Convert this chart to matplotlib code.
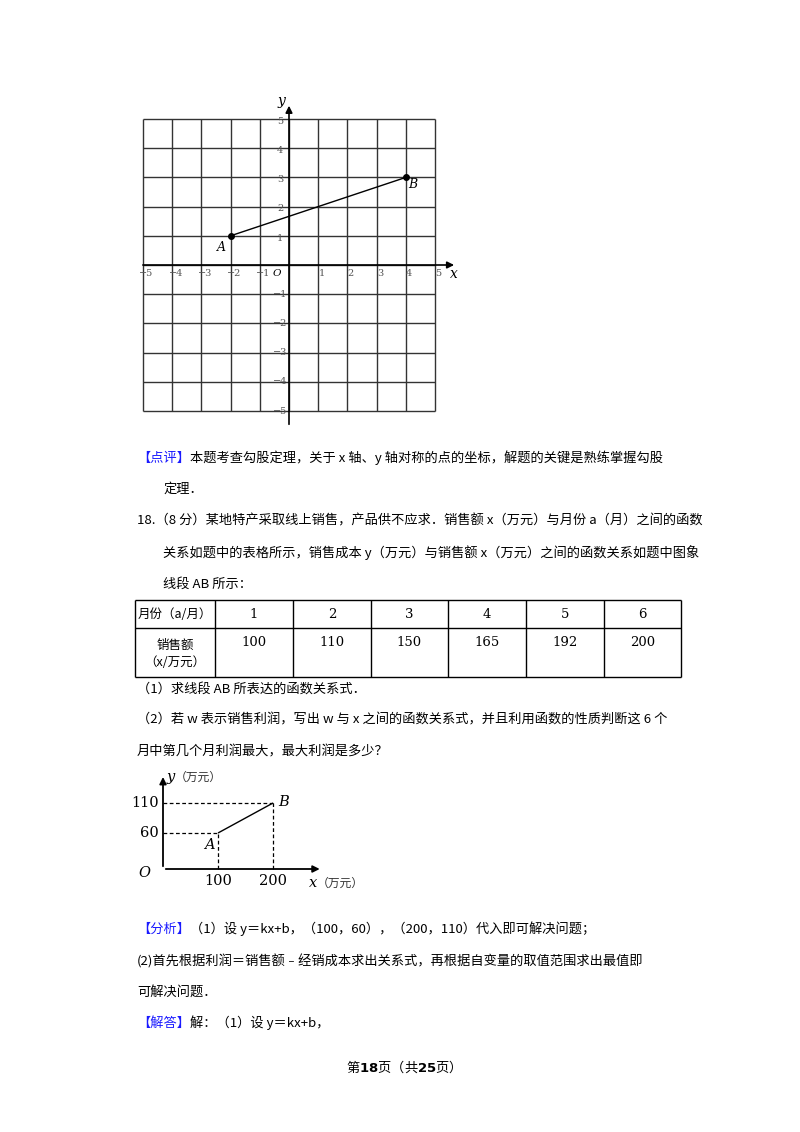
import matplotlib
matplotlib.use("Agg")
import matplotlib.pyplot as plt

plt.rcParams['font.family'] = ['Noto Sans CJK SC', 'DejaVu Sans']
plt.rcParams['lines.solid_capstyle'] = 'butt'

# data
grid_ticks = [-5, -4, -3, -2, -1, 1, 2, 3, 4, 5]
A = (-2, 1)
B = (4, 3)
months = ["1", "2", "3", "4", "5", "6"]
sales = ["100", "110", "150", "165", "192", "200"]
seg_x = [100, 200]
seg_y = [60, 110]

W, H = 800, 1132
fig = plt.figure(figsize=(8, 11.32), dpi=100)
page = fig.add_axes([0, 0, 1, 1])
page.set_xlim(0, W); page.set_ylim(H, 0); page.axis('off')

def fa(x0, x1, y0, y1):
    return [x0 / W, 1 - y1 / H, (x1 - x0) / W, (y1 - y0) / H]

# ---- grid chart ----
g = fig.add_axes(fa(143, 435, 119, 411))
g.set_xlim(-5, 5); g.set_ylim(-5, 5); g.axis('off')
for v in range(-5, 6):
    g.plot([v, v], [-5, 5], color='#333', lw=1.0, clip_on=False)
    g.plot([-5, 5], [v, v], color='#333', lw=1.0, clip_on=False)
g.annotate('', xy=(5.75, 0), xytext=(-5.1, 0), arrowprops=dict(arrowstyle='-|>', color='k', lw=1.2), annotation_clip=False)
g.annotate('', xy=(0, 5.55), xytext=(0, -5.55), arrowprops=dict(arrowstyle='-|>', color='k', lw=1.2), annotation_clip=False)
for t in grid_ticks:
    g.text(t + 0.12, -0.3, str(t).replace('-', '−'), fontsize=7, color='#555', family='DejaVu Serif', va='center', ha='center')
    g.text(-0.3, t - 0.08 if t > 0 else t, str(t).replace('-', '−'), fontsize=7, color='#555', family='DejaVu Serif', va='center', ha='center')
g.text(-0.4, -0.3, 'O', fontsize=7.5, style='italic', family='DejaVu Serif', va='center', ha='center')
g.text(5.65, -0.3, 'x', fontsize=10, style='italic', family='DejaVu Serif', va='center', ha='center', clip_on=False)
g.text(-0.25, 5.6, 'y', fontsize=10, style='italic', family='DejaVu Serif', va='center', ha='center', clip_on=False)
g.plot([A[0], B[0]], [A[1], B[1]], color='k', lw=1.0)
g.plot([A[0], B[0]], [A[1], B[1]], 'o', color='k', ms=4)
g.text(A[0] - 0.3, A[1] - 0.4, 'A', fontsize=9, style='italic', family='DejaVu Serif', va='center', ha='center')
g.text(B[0] + 0.25, B[1] - 0.25, 'B', fontsize=9, style='italic', family='DejaVu Serif', va='center', ha='center')

# ---- text ----
FS = 9.5
BLUE = '#1a1aff'
def line(x, y, s, **kw):
    page.text(x, y, s, fontsize=FS, va='center', ha='left', **kw)

line(137, 458, '【点评】', color=BLUE)
line(190, 458, '本题考查勾股定理，关于 x 轴、y 轴对称的点的坐标，解题的关键是熟练掌握勾股')
line(163, 489, '定理．')
line(137, 521, '18.（8 分）某地特产采取线上销售，产品供不应求．销售额 x（万元）与月份 a（月）之间的函数')
line(163, 553, '关系如题中的表格所示，销售成本 y（万元）与销售额 x（万元）之间的函数关系如题中图象')
line(163, 584, '线段 AB 所示：')

# table
xs = [135, 215, 293, 371, 448, 526, 604, 681]
ytop, ymid, ybot = 600, 628, 677
for xv in xs:
    page.plot([xv, xv], [ytop, ybot], color='k', lw=1.0)
for yv in (ytop, ymid, ybot):
    page.plot([xs[0], xs[-1]], [yv, yv], color='k', lw=1.0)
page.text(175, 614, '月份（a/月）', fontsize=9, ha='center', va='center')
page.text(175, 645, '销售额', fontsize=9, ha='center', va='center')
page.text(175, 662, '（x/万元）', fontsize=9, ha='center', va='center')
for i in range(6):
    cx = (xs[i + 1] + xs[i + 2]) / 2
    page.text(cx, 614, months[i], fontsize=9.5, ha='center', va='center', family='DejaVu Serif')
    page.text(cx, 643, sales[i], fontsize=9.5, ha='center', va='center', family='DejaVu Serif')

line(137, 689, '（1）求线段 AB 所表达的函数关系式．')
line(137, 720, '（2）若 w 表示销售利润，写出 w 与 x 之间的函数关系式，并且利用函数的性质判断这 6 个')
line(137, 752, '月中第几个月利润最大，最大利润是多少？')

# ---- small chart ----
s = fig.add_axes(fa(163, 273, 803, 869))
s.set_xlim(0, 200); s.set_ylim(0, 110); s.axis('off')
s.annotate('', xy=(290, 0), xytext=(0, 0), arrowprops=dict(arrowstyle='-|>', color='k', lw=1.3), annotation_clip=False)
s.annotate('', xy=(0, 158), xytext=(0, 0), arrowprops=dict(arrowstyle='-|>', color='k', lw=1.3), annotation_clip=False)
s.plot(seg_x, seg_y, color='k', lw=1.0, clip_on=False)
dk = dict(color='k', lw=0.9, dashes=(3, 2), clip_on=False)
s.plot([0, seg_x[0]], [seg_y[0]] * 2, **dk)
s.plot([0, seg_x[1]], [seg_y[1]] * 2, **dk)
s.plot([seg_x[0]] * 2, [0, seg_y[0]], **dk)
s.plot([seg_x[1]] * 2, [0, seg_y[1]], **dk)
ser = dict(family='DejaVu Serif', fontsize=10.5, va='center')
s.text(-8, 60, '60', ha='right', **ser)
s.text(-8, 110, '110', ha='right', **ser)
s.text(100, -20, '100', ha='center', **ser)
s.text(200, -20, '200', ha='center', **ser)
s.text(-22, -6, 'O', ha='right', style='italic', **ser)
s.text(85, 40, 'A', ha='center', style='italic', **ser)
s.text(210, 112, 'B', ha='left', style='italic', **ser)
s.text(6, 153, 'y', ha='left', style='italic', **ser)
s.text(22, 153, '（万元）', ha='left', va='center', fontsize=8.5, color='#333')
s.text(265, -24, 'x', ha='left', style='italic', **ser)
s.text(280, -24, '（万元）', ha='left', va='center', fontsize=8.5, color='#333')

line(137, 929, '【分析】', color=BLUE)
line(190, 929, '（1）设 y＝kx+b，（100，60），（200，110）代入即可解决问题；')
line(137, 961, '(2)首先根据利润＝销售额﹣经销成本求出关系式，再根据自变量的取值范围求出最值即')
line(137, 992, '可解决问题．')
line(137, 1023, '【解答】', color=BLUE)
line(190, 1023, '解：（1）设 y＝kx+b，')

page.text(400, 1067, '第$\\mathbf{18}$页（共$\\mathbf{25}$页）', fontsize=9.5, ha='center', va='center')

fig.savefig('out.png', dpi=100)
